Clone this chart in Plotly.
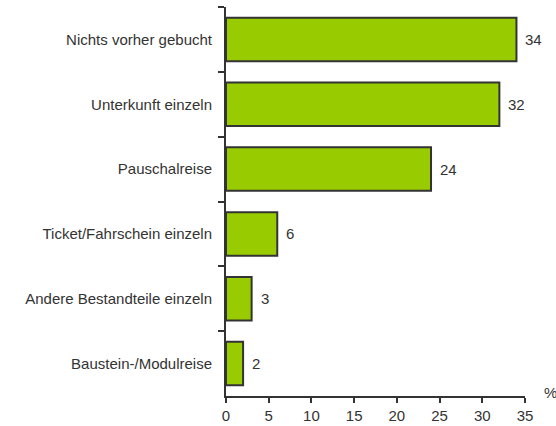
import plotly.graph_objects as go

categories = ["Nichts vorher gebucht", "Unterkunft einzeln", "Pauschalreise",
              "Ticket/Fahrschein einzeln", "Andere Bestandteile einzeln", "Baustein-/Modulreise"]
values = [34, 32, 24, 6, 3, 2]
x_ticks = [0, 5, 10, 15, 20, 25, 30, 35]

FONT = "Liberation Sans, Arial"
TXT = "#333333"

fig = go.Figure(go.Bar(
    x=values, y=categories, orientation="h",
    marker=dict(color="#99cc00", line=dict(color="#333333", width=2)),
))

for c, v in zip(categories, values):
    fig.add_annotation(x=v, y=c, text=str(v), showarrow=False, xanchor="left",
                       yanchor="middle", xshift=7,
                       font=dict(family=FONT, size=15, color=TXT))

fig.update_layout(
    width=556, height=426,
    margin=dict(l=226, r=31, t=7, b=30, autoexpand=False),
    plot_bgcolor="white", paper_bgcolor="white",
    font=dict(family=FONT, size=15, color=TXT),
    bargap=0.33,
    showlegend=False,
    xaxis=dict(range=[0, 35], tickvals=x_ticks, showgrid=False, zeroline=False,
               showline=True, linecolor="#333333", linewidth=2,
               ticks="outside", ticklen=5, tickwidth=2, tickcolor="#333333"),
    yaxis=dict(autorange="reversed", showgrid=False, zeroline=False,
               showline=True, linecolor="#333333", linewidth=2,
               ticks="outside", ticklen=6, tickwidth=2, tickcolor="#333333",
               tickson="boundaries", ticklabelstandoff=9),
)
fig.add_annotation(text="%", xref="paper", yref="paper", x=1.084, y=0.008,
                   showarrow=False, xanchor="center", yanchor="middle",
                   font=dict(family=FONT, size=15, color=TXT))

fig.write_html("out.html", config={"displayModeBar": False},
               post_script="document.body.style.margin='0';")
